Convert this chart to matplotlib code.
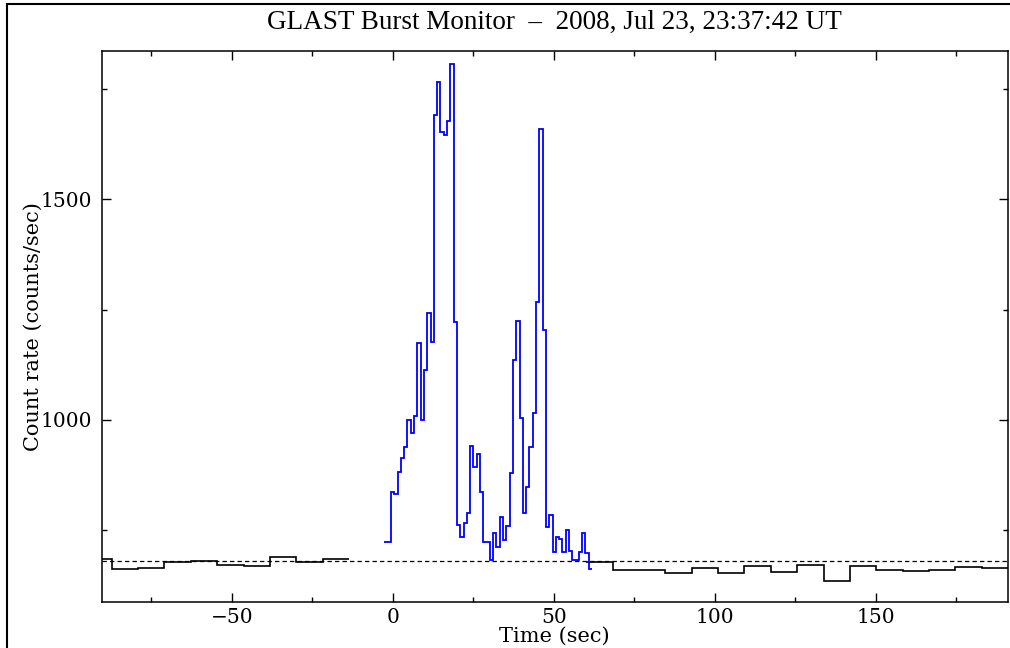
import numpy as np
import matplotlib
matplotlib.use('Agg')
import matplotlib.pyplot as plt
from matplotlib.patches import Rectangle
from matplotlib.ticker import MultipleLocator

# GBM light curve, 1.024 s bins around the trigger (blue)
burstStart = -2.6
burstBin = 1.024
burstRates = [723.7, 723.7, 836.3, 831.7, 882.2, 914.6, 939.5, 999.3, 969.9, 1009.1,
              1175.0, 1000.0, 1112.5, 1241.6, 1177.3, 1690.7, 1765.4, 1652.9, 1644.3, 1677.8,
              1806.8, 1222.6, 762.2, 735.7, 767.4, 788.7, 941.8, 894.2, 923.0, 836.3,
              723.7, 723.7, 682.9, 743.4, 713.1, 779.7, 728.3, 760.0, 879.3, 1136.3,
              1224.2, 1003.4, 790.1, 849.0, 939.5, 1016.5, 1267.9, 1658.3, 1203.8, 758.4,
              784.2, 700.4, 734.4, 731.2, 700.4, 750.9, 704.0, 682.9, 682.9, 701.8,
              743.4, 699.5, 661.9]

# background, 8.192 s bins (black)
bkgBin = 8.192
preStart = -95.5
preRates = [684.6, 661.9, 665.5, 679.1, 680.0, 672.3, 669.4, 689.8, 678.4, 684.6]
postStart = 60.1
postRates = [677.8, 660.3, 660.3, 652.9, 664.2, 652.9, 669.4, 655.1, 672.3, 635.4,
             669.4, 660.3, 658.1, 661.1, 666.5, 664.2]

bkgLevel = 681.4

burstEdges = burstStart + burstBin * np.arange(len(burstRates) + 1)
preEdges = preStart + bkgBin * np.arange(len(preRates) + 1)
postEdges = postStart + bkgBin * np.arange(len(postRates) + 1)

serif = 'DejaVu Serif'

fig = plt.figure(figsize=(10.1, 6.48), dpi=100)
ax = fig.add_axes([0.1007, 0.0710, 0.8970, 0.8508])

ax.stairs(preRates, preEdges, baseline=None, color='black', lw=1.2)
ax.stairs(postRates, postEdges, baseline=None, color='black', lw=1.2)
ax.stairs(burstRates, burstEdges, baseline=None, color='#0000ff', lw=1.3)
ax.axhline(bkgLevel, color='black', lw=0.9, linestyle=(0, (3.5, 2.5)))

ax.set_xlim(-90.4, 191)
ax.set_ylim(588, 1836)

ax.xaxis.set_major_locator(MultipleLocator(50))
ax.xaxis.set_minor_locator(MultipleLocator(25))
ax.yaxis.set_major_locator(MultipleLocator(500))
ax.yaxis.set_minor_locator(MultipleLocator(250))
ax.tick_params(which='both', direction='in', top=True, right=True, width=1.0)
ax.tick_params(which='major', length=6.5, labelsize=14.5)
ax.tick_params(axis='x', which='major', pad=4)
ax.tick_params(axis='y', which='major', pad=7)
ax.tick_params(which='minor', length=3.5)
for lab in ax.get_xticklabels() + ax.get_yticklabels():
    lab.set_fontfamily(serif)
for s in ax.spines.values():
    s.set_linewidth(1.1)

ax.set_xlabel('Time (sec)', fontsize=15, fontfamily=serif, labelpad=0)
ax.set_ylabel('Count rate (counts/sec)', fontsize=15, fontfamily=serif, labelpad=-2)
ax.set_title('GLAST Burst Monitor  \u2013  2008, Jul 23, 23:37:42 UT',
             fontsize=19.5, fontfamily='Liberation Serif', pad=16)

# outer frame, like the original plot device
fig.patches.append(Rectangle((7 / 1010, -0.1), 1.2, 1.1 - 4.5 / 648, transform=fig.transFigure,
                             fill=False, edgecolor='black', lw=1.5))

fig.savefig('out.png', dpi=100)
